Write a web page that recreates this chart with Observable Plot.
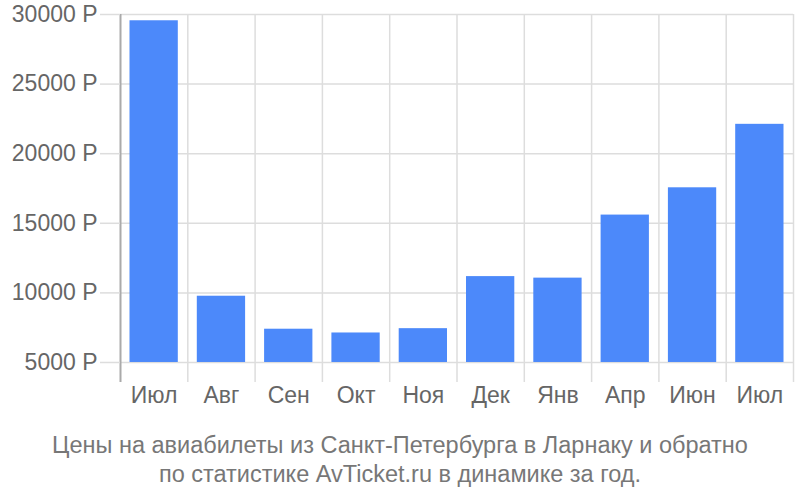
<!DOCTYPE html>
<html>
<head>
<meta charset="utf-8">
<script src="https://cdn.jsdelivr.net/npm/d3@7"></script>
<script src="https://cdn.jsdelivr.net/npm/@observablehq/plot@0.6"></script>
<style>
  body { margin: 0; background: #fff; font-family: "Liberation Sans", Arial, sans-serif; }
  #chart { width: 800px; }
  .caption { text-align: center; color: #777; font-size: 23.5px; line-height: 29px; margin-top: 11px; white-space: nowrap; }
</style>
</head>
<body>
<div id="chart"></div>
<script>
const months = ["Июл", "Авг", "Сен", "Окт", "Ноя", "Дек", "Янв", "Апр", "Июн", "Июл"];
const prices = [29550, 9760, 7390, 7120, 7430, 11170, 11060, 15590, 17550, 22110];
const yTicks = [5000, 10000, 15000, 20000, 25000, 30000];
const baseline = 5000;

const data = months.map((m, i) => ({ i, m, v: prices[i] }));
const bounds = d3.range(0, months.length + 1);

const chart = Plot.plot({
  width: 800,
  height: 420,
  marginTop: 14,
  marginBottom: 38,
  marginLeft: 120,
  marginRight: 7,
  style: { fontFamily: "Liberation Sans, Arial, sans-serif", fontSize: "23px", color: "#666", background: "#fff" },
  x: { domain: [0, months.length] },
  y: { domain: [3562, 30000] },
  marks: [
    Plot.ruleY(yTicks, { stroke: "#ddd", strokeWidth: 1.5 }),
    Plot.ruleX(bounds.slice(1), { stroke: "#ddd", strokeWidth: 1.5 }),
    Plot.rectY(data, { x1: d => d.i, x2: d => d.i + 1, y1: baseline, y2: "v", fill: "#4c89fa", insetLeft: 9.5, insetRight: 9.5 }),
    Plot.ruleX([0], { stroke: "#aaa", strokeWidth: 2 }),
    Plot.axisY({ ticks: yTicks, tickSize: 20, stroke: "#ddd", strokeWidth: 1.5, tickPadding: 3, fill: "#666", fontSize: 23, tickFormat: d => d + " Р", label: null }),
    Plot.axisX({ ticks: data.map(d => d.i + 0.5), tickSize: 0, tickPadding: 4, fill: "#666", fontSize: 23, tickFormat: t => months[Math.floor(t)], label: null })
  ]
});
document.getElementById("chart").appendChild(chart);
const cap = document.createElement("div");
cap.className = "caption";
cap.innerHTML = "Цены на авиабилеты из Санкт-Петербурга в Ларнаку и обратно<br>по статистике AvTicket.ru в динамике за год.";
document.getElementById("chart").appendChild(cap);
</script>
</body>
</html>
